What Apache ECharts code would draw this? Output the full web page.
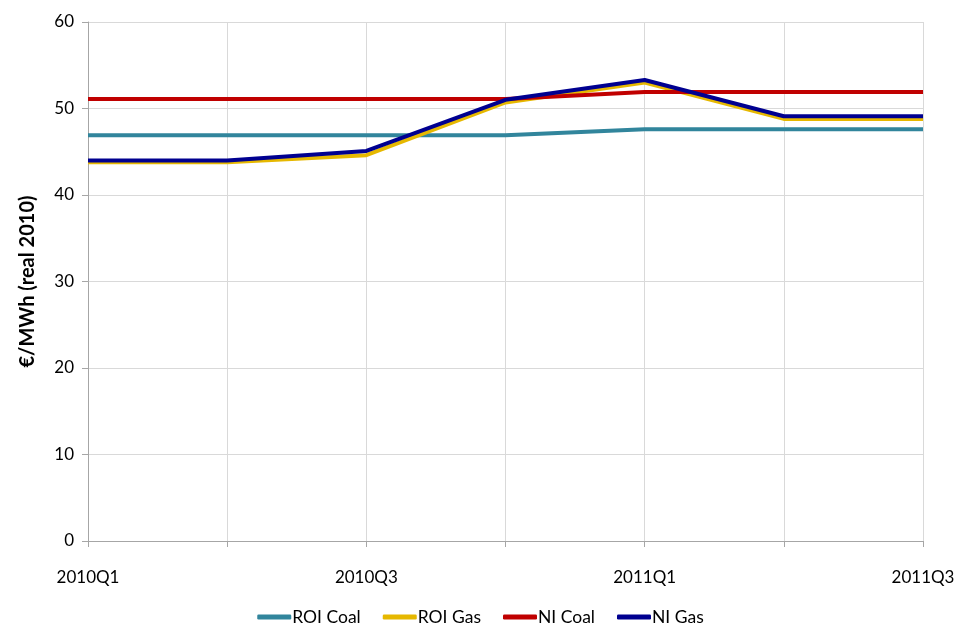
<!DOCTYPE html>
<html><head><meta charset="utf-8">
<script src="https://cdn.jsdelivr.net/npm/echarts@6/dist/echarts.min.js"></script>
<style>html,body{margin:0;padding:0;background:#fff}#c{width:961px;height:626px}</style>
</head><body><div id="c"></div>
<script>
const categories = ['2010Q1','2010Q2','2010Q3','2010Q4','2011Q1','2011Q2','2011Q3'];
const roiCoal = [46.9,46.9,46.9,46.9,47.6,47.6,47.6];
const roiGas  = [43.8,43.8,44.6,50.7,53.0,48.8,48.8];
const niCoal  = [51.1,51.1,51.1,51.1,51.9,51.9,51.9];
const niGas   = [44.0,44.0,45.1,51.0,53.3,49.1,49.1];
const yTicks = [0,10,20,30,40,50,60];

const font = 'Lato, "DejaVu Sans", sans-serif';
const chart = echarts.init(document.getElementById('c'));
function line(name, data, color){
  return {name, type:'line', data, symbol:'none', lineStyle:{width:4, color}, itemStyle:{color}};
}
chart.setOption({
  animation:false,
  textStyle:{fontFamily:font},
  grid:{left:88, right:38, top:22, bottom:85},
  legend:{
    top:603, left:'center', itemWidth:34, itemHeight:5, icon:'roundRect', itemGap:22,
    textStyle:{fontSize:17.5, color:'#000', fontFamily:font, padding:[0,0,0,-4]},
    data:['ROI Coal','ROI Gas','NI Coal','NI Gas']
  },
  xAxis:{
    type:'category', data:categories, boundaryGap:false,
    axisLine:{lineStyle:{color:'#a6a6a6'}},
    axisTick:{show:true, interval:0, length:6, lineStyle:{color:'#a6a6a6'}},
    axisLabel:{interval:1, fontSize:17, color:'#000', margin:28, fontFamily:font},
    splitLine:{show:true, interval:0, lineStyle:{color:'#d9d9d9', width:1}}
  },
  yAxis:{
    type:'value', min:yTicks[0], max:yTicks[yTicks.length-1], interval:10,
    name:'€/MWh (real 2010)', nameLocation:'middle', nameGap:50,
    nameTextStyle:{fontSize:20, fontWeight:'bold', color:'#000', fontFamily:font},
    axisLine:{show:true, lineStyle:{color:'#a6a6a6'}},
    axisTick:{show:true, length:6, lineStyle:{color:'#a6a6a6'}},
    axisLabel:{fontSize:17, color:'#000', margin:14, fontFamily:font},
    splitLine:{show:true, lineStyle:{color:'#d9d9d9', width:1}}
  },
  series:[
    line('ROI Coal', roiCoal, '#31859c'),
    line('ROI Gas', roiGas, '#e6b800'),
    line('NI Coal', niCoal, '#c00000'),
    line('NI Gas', niGas, '#000090')
  ]
});
</script></body></html>
